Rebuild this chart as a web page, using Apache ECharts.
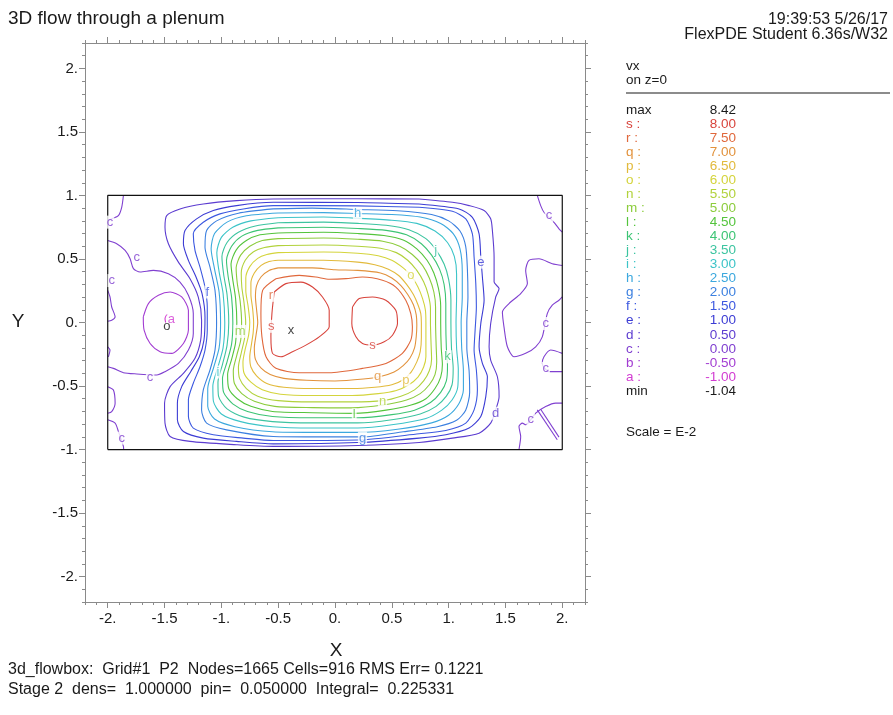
<!DOCTYPE html>
<html>
<head>
<meta charset="utf-8">
<script src="https://cdn.jsdelivr.net/npm/echarts@6/dist/echarts.min.js"></script>
<style>
  html, body { margin: 0; padding: 0; background: #fff; }
  #main { width: 893px; height: 715px; }
</style>
</head>
<body>
<div id="main"></div>
<script>
// tick labels
var xMajor = [-2, -1.5, -1, -0.5, 0, 0.5, 1, 1.5, 2];
var yMajor = [-2, -1.5, -1, -0.5, 0, 0.5, 1, 1.5, 2];

// legend
var legendLevels = ['s', 'r', 'q', 'p', 'o', 'n', 'm', 'l', 'k', 'j', 'i', 'h', 'g', 'f', 'e', 'd', 'c', 'b', 'a'];
var legendValues = [8.00, 7.50, 7.00, 6.50, 6.00, 5.50, 5.00, 4.50, 4.00, 3.50, 3.00, 2.50, 2.00, 1.50, 1.00, 0.50, 0.00, -0.50, -1.00];
var vxMax = 8.42;
var vxMin = -1.04;

// domain outline
var domainBox = [[-2, -1], [2, -1], [2, 1], [-2, 1], [-2, -1]];

// contour lines of vx, one list of pieces per level
var lineA = [
  [[-1.47, 0.065], [-1.485, 0.055], [-1.496, 0.03], [-1.49, 0.0]]
];
var lineB = [
  [[-1.687, 0.044], [-1.642, 0.149], [-1.554, 0.214], [-1.451, 0.24], [-1.349, 0.201], [-1.29, 0.096], [-1.29, -0.06], [-1.334, -0.165], [-1.437, -0.243], [-1.539, -0.23], [-1.627, -0.165], [-1.68, -0.06], [-1.687, 0.044]]
];
var lineC = [
  [[-2.0, 0.645], [-1.921, 0.62], [-1.847, 0.567], [-1.803, 0.502], [-1.774, 0.424], [-1.715, 0.397], [-1.598, 0.41], [-1.466, 0.384], [-1.364, 0.318], [-1.29, 0.214], [-1.247, 0.07], [-1.247, -0.086], [-1.29, -0.217], [-1.378, -0.322], [-1.496, -0.387], [-1.569, -0.413], [-1.745, -0.405], [-1.862, -0.395], [-1.95, -0.361], [-2.0, -0.348]],
  [[-1.862, 1.0], [-1.877, 0.907], [-1.906, 0.842], [-1.965, 0.816], [-2.0, 0.802]],
  [[-2.0, 0.253], [-1.98, 0.201], [-1.965, 0.122], [-1.935, 0.044], [-1.965, 0.018], [-2.0, 0.01]],
  [[-2.0, -0.191], [-1.98, -0.217], [-1.994, -0.27]],
  [[-2.0, -0.505], [-1.95, -0.531], [-1.935, -0.635], [-1.965, -0.701], [-2.0, -0.714]],
  [[-2.0, -0.766], [-1.935, -0.792], [-1.906, -0.858], [-1.862, -0.975], [-1.86, -1.0]],
  [[1.78, 1.0], [1.81, 0.92], [1.839, 0.868], [1.927, 0.789], [1.971, 0.737], [2.0, 0.711]],
  [[2.0, 0.449], [1.912, 0.463], [1.795, 0.502], [1.707, 0.489], [1.678, 0.41], [1.693, 0.306], [1.634, 0.227], [1.531, 0.149], [1.473, 0.083], [1.487, -0.034], [1.517, -0.191], [1.575, -0.27], [1.678, -0.243], [1.766, -0.191], [1.824, -0.113], [1.868, 0.07], [1.912, 0.136], [1.971, 0.175], [2.0, 0.201]],
  [[2.0, -0.243], [1.898, -0.217], [1.839, -0.27], [1.824, -0.322], [1.883, -0.387], [1.971, -0.387], [2.0, -0.387]],
  [[1.619, -1.0], [1.634, -0.897], [1.619, -0.819], [1.649, -0.792], [1.678, -0.805], [1.766, -0.714], [1.854, -0.662], [1.942, -0.635], [2.0, -0.635]],
  [[1.78, -0.688], [1.956, -0.923]],
  [[1.81, -0.683], [1.971, -0.902]]
];
var lineD = [
  [[0.74, 0.972], [0.2, 0.974], [-0.543, 0.972], [-0.866, 0.959], [-1.159, 0.933], [-1.364, 0.894], [-1.481, 0.842], [-1.496, 0.75], [-1.466, 0.62], [-1.378, 0.475], [-1.276, 0.345], [-1.203, 0.2], [-1.174, 0.018], [-1.182, -0.139], [-1.232, -0.282], [-1.334, -0.4], [-1.451, -0.505], [-1.5, -0.635], [-1.496, -0.792], [-1.451, -0.897], [-1.276, -0.936], [-0.866, -0.962], [-0.543, -0.975], [0.2, -0.968], [0.74, -0.944], [1.033, -0.91], [1.268, -0.871], [1.37, -0.792], [1.414, -0.688], [1.444, -0.584], [1.429, -0.427], [1.37, -0.296], [1.356, -0.191], [1.37, -0.008], [1.414, 0.2], [1.444, 0.267], [1.4, 0.318], [1.4, 0.515], [1.385, 0.724], [1.37, 0.816], [1.312, 0.881], [1.18, 0.92], [1.033, 0.946], [0.74, 0.972]]
];
var lineE = [
  [[0.74, 0.933], [0.2, 0.945], [-0.543, 0.946], [-0.866, 0.92], [-1.071, 0.881], [-1.218, 0.816], [-1.32, 0.724], [-1.334, 0.62], [-1.29, 0.489], [-1.223, 0.358], [-1.17, 0.227], [-1.144, 0.044], [-1.153, -0.139], [-1.194, -0.27], [-1.27, -0.387], [-1.349, -0.505], [-1.387, -0.635], [-1.387, -0.766], [-1.334, -0.858], [-1.159, -0.91], [-0.866, -0.936], [-0.543, -0.955], [0.2, -0.945], [0.74, -0.91], [0.975, -0.884], [1.18, -0.831], [1.283, -0.74], [1.327, -0.584], [1.341, -0.427], [1.297, -0.322], [1.268, -0.191], [1.283, -0.008], [1.312, 0.175], [1.297, 0.358], [1.283, 0.515], [1.268, 0.698], [1.209, 0.828], [1.092, 0.894], [0.74, 0.933]]
];
var lineF = [
  [[0.74, 0.907], [0.2, 0.918], [-0.543, 0.92], [-0.807, 0.894], [-1.012, 0.855], [-1.159, 0.789], [-1.247, 0.698], [-1.232, 0.567], [-1.188, 0.436], [-1.144, 0.279], [-1.124, 0.122], [-1.124, -0.06], [-1.144, -0.217], [-1.188, -0.348], [-1.247, -0.478], [-1.29, -0.609], [-1.29, -0.74], [-1.247, -0.831], [-1.071, -0.884], [-0.807, -0.91], [-0.543, -0.929], [0.2, -0.925], [0.74, -0.876], [0.975, -0.85], [1.151, -0.792], [1.224, -0.688], [1.253, -0.531], [1.244, -0.374], [1.224, -0.217], [1.233, -0.06], [1.244, 0.122], [1.239, 0.306], [1.224, 0.515], [1.209, 0.698], [1.151, 0.816], [1.033, 0.875], [0.74, 0.907]]
];
var lineG = [
  [[-0.543, 0.894], [-0.2, 0.9], [0.2, 0.89], [0.55, 0.88], [0.85, 0.85], [1.0, 0.8], [1.1, 0.72], [1.15, 0.6], [1.165, 0.42], [1.17, 0.2], [1.16, 0], [1.16, -0.2], [1.18, -0.38], [1.185, -0.55], [1.15, -0.69], [1.07, -0.77], [0.9, -0.82], [0.6, -0.86], [0.24, -0.9], [-0.2, -0.9], [-0.543, -0.897], [-0.954, -0.845], [-1.13, -0.792], [-1.174, -0.688], [-1.159, -0.531], [-1.1, -0.374], [-1.056, -0.217], [-1.042, 0], [-1.056, 0.253], [-1.1, 0.436], [-1.144, 0.593], [-1.13, 0.724], [-1.042, 0.8], [-0.85, 0.86], [-0.543, 0.894]]
];
var lineH = [
  [[-0.5, 0.862], [-0.1, 0.865], [0.2, 0.858], [0.5, 0.85], [0.75, 0.83], [0.93, 0.78], [1.04, 0.7], [1.1, 0.58], [1.12, 0.4], [1.12, 0.2], [1.11, 0], [1.115, -0.2], [1.13, -0.38], [1.13, -0.53], [1.09, -0.64], [1.0, -0.73], [0.85, -0.79], [0.55, -0.84], [0.2, -0.865], [-0.2, -0.865], [-0.55, -0.86], [-0.88, -0.82], [-1.06, -0.76], [-1.12, -0.66], [-1.12, -0.52], [-1.07, -0.36], [-1.02, -0.2], [-1.007, 0], [-1.02, 0.24], [-1.06, 0.42], [-1.09, 0.58], [-1.06, 0.7], [-0.95, 0.79], [-0.78, 0.84], [-0.5, 0.862]]
];
var lineI = [
  [[-0.5, 0.825], [-0.1, 0.83], [0.2, 0.82], [0.5, 0.805], [0.72, 0.78], [0.88, 0.72], [0.99, 0.63], [1.05, 0.52], [1.07, 0.38], [1.07, 0.2], [1.065, 0], [1.07, -0.2], [1.085, -0.37], [1.08, -0.51], [1.03, -0.61], [0.94, -0.69], [0.8, -0.755], [0.5, -0.805], [0.2, -0.83], [-0.2, -0.83], [-0.55, -0.82], [-0.83, -0.78], [-1.0, -0.72], [-1.07, -0.62], [-1.075, -0.5], [-1.03, -0.35], [-0.985, -0.2], [-0.97, 0], [-0.985, 0.23], [-1.02, 0.4], [-1.04, 0.55], [-1.0, 0.67], [-0.9, 0.75], [-0.74, 0.8], [-0.5, 0.825]]
];
var lineJ = [
  [[-0.5, 0.785], [-0.1, 0.79], [0.2, 0.78], [0.45, 0.765], [0.65, 0.73], [0.8, 0.66], [0.89, 0.57], [0.96, 0.46], [1.0, 0.34], [1.02, 0.18], [1.02, 0], [1.025, -0.2], [1.04, -0.36], [1.03, -0.49], [0.98, -0.58], [0.89, -0.66], [0.75, -0.72], [0.5, -0.765], [0.2, -0.79], [-0.2, -0.79], [-0.55, -0.78], [-0.8, -0.745], [-0.95, -0.68], [-1.025, -0.58], [-1.03, -0.47], [-0.99, -0.33], [-0.95, -0.18], [-0.935, 0], [-0.95, 0.22], [-0.98, 0.38], [-0.995, 0.52], [-0.95, 0.63], [-0.85, 0.71], [-0.7, 0.76], [-0.5, 0.785]]
];
var lineK = [
  [[-0.5, 0.745], [-0.1, 0.75], [0.2, 0.74], [0.45, 0.725], [0.63, 0.69], [0.76, 0.62], [0.85, 0.53], [0.92, 0.42], [0.96, 0.3], [0.975, 0.15], [0.975, 0], [0.98, -0.2], [0.99, -0.34], [0.98, -0.46], [0.93, -0.55], [0.84, -0.63], [0.7, -0.69], [0.5, -0.725], [0.2, -0.75], [-0.2, -0.75], [-0.55, -0.74], [-0.77, -0.7], [-0.9, -0.64], [-0.98, -0.55], [-0.99, -0.44], [-0.95, -0.31], [-0.91, -0.17], [-0.899, 0], [-0.91, 0.2], [-0.94, 0.36], [-0.955, 0.49], [-0.91, 0.6], [-0.82, 0.68], [-0.68, 0.725], [-0.5, 0.745]]
];
var lineL = [
  [[-0.5, 0.705], [-0.1, 0.71], [0.2, 0.7], [0.43, 0.685], [0.6, 0.65], [0.72, 0.58], [0.81, 0.49], [0.87, 0.39], [0.91, 0.27], [0.93, 0.13], [0.93, 0], [0.935, -0.2], [0.945, -0.33], [0.93, -0.43], [0.88, -0.52], [0.8, -0.6], [0.67, -0.65], [0.45, -0.69], [0.17, -0.715], [-0.2, -0.71], [-0.55, -0.7], [-0.74, -0.66], [-0.86, -0.6], [-0.935, -0.52], [-0.945, -0.41], [-0.91, -0.29], [-0.875, -0.16], [-0.864, 0], [-0.875, 0.19], [-0.9, 0.34], [-0.915, 0.46], [-0.87, 0.57], [-0.78, 0.645], [-0.66, 0.69], [-0.5, 0.705]]
];
var lineM = [
  [[-0.5, 0.66], [-0.1, 0.665], [0.2, 0.655], [0.42, 0.64], [0.57, 0.6], [0.68, 0.535], [0.77, 0.45], [0.83, 0.35], [0.87, 0.24], [0.885, 0.12], [0.885, 0], [0.89, -0.18], [0.895, -0.31], [0.88, -0.41], [0.83, -0.49], [0.75, -0.56], [0.63, -0.61], [0.42, -0.65], [0.15, -0.672], [-0.2, -0.67], [-0.53, -0.66], [-0.71, -0.62], [-0.82, -0.56], [-0.885, -0.48], [-0.895, -0.38], [-0.865, -0.26], [-0.83, -0.14], [-0.822, 0], [-0.835, 0.17], [-0.86, 0.31], [-0.87, 0.43], [-0.83, 0.53], [-0.75, 0.6], [-0.64, 0.645], [-0.5, 0.66]]
];
var lineN = [
  [[-0.5, 0.605], [-0.1, 0.61], [0.2, 0.6], [0.4, 0.585], [0.54, 0.55], [0.64, 0.49], [0.72, 0.41], [0.78, 0.32], [0.82, 0.22], [0.84, 0.11], [0.84, 0], [0.845, -0.16], [0.85, -0.29], [0.83, -0.38], [0.78, -0.46], [0.7, -0.53], [0.58, -0.58], [0.42, -0.615], [0.15, -0.625], [-0.2, -0.625], [-0.5, -0.615], [-0.68, -0.58], [-0.78, -0.52], [-0.84, -0.44], [-0.85, -0.35], [-0.825, -0.24], [-0.795, -0.12], [-0.786, 0], [-0.8, 0.15], [-0.82, 0.28], [-0.825, 0.39], [-0.79, 0.49], [-0.72, 0.555], [-0.62, 0.59], [-0.5, 0.605]]
];
var lineO = [
  [[-0.5, 0.55], [-0.1, 0.555], [0.2, 0.545], [0.38, 0.525], [0.5, 0.49], [0.6, 0.43], [0.67, 0.37], [0.73, 0.28], [0.77, 0.19], [0.795, 0.1], [0.8, 0], [0.8, -0.15], [0.8, -0.27], [0.78, -0.35], [0.73, -0.43], [0.65, -0.49], [0.54, -0.535], [0.38, -0.56], [0.15, -0.575], [-0.2, -0.575], [-0.48, -0.565], [-0.64, -0.53], [-0.74, -0.47], [-0.8, -0.4], [-0.81, -0.31], [-0.79, -0.21], [-0.76, -0.1], [-0.75, 0], [-0.765, 0.13], [-0.785, 0.25], [-0.785, 0.35], [-0.75, 0.44], [-0.68, 0.505], [-0.6, 0.535], [-0.5, 0.55]]
];
var lineP = [
  [[-0.5, 0.49], [-0.1, 0.49], [0.2, 0.475], [0.35, 0.455], [0.47, 0.42], [0.56, 0.37], [0.63, 0.3], [0.69, 0.22], [0.73, 0.14], [0.755, 0.07], [0.76, 0], [0.76, -0.12], [0.75, -0.23], [0.72, -0.31], [0.67, -0.39], [0.6, -0.45], [0.5, -0.49], [0.35, -0.51], [0.15, -0.52], [-0.2, -0.52], [-0.45, -0.51], [-0.6, -0.48], [-0.69, -0.42], [-0.74, -0.35], [-0.75, -0.27], [-0.735, -0.17], [-0.72, -0.08], [-0.716, 0], [-0.725, 0.11], [-0.74, 0.22], [-0.74, 0.31], [-0.71, 0.39], [-0.65, 0.45], [-0.58, 0.48], [-0.5, 0.49]]
];
var lineQ = [
  [[-0.5, 0.43], [-0.2, 0.43], [0.0, 0.415], [0.2, 0.41], [0.4, 0.39], [0.5, 0.35], [0.58, 0.29], [0.64, 0.22], [0.69, 0.14], [0.715, 0.06], [0.72, -0.02], [0.715, -0.11], [0.7, -0.2], [0.66, -0.28], [0.6, -0.34], [0.52, -0.39], [0.4, -0.425], [0.25, -0.445], [0.0, -0.46], [-0.25, -0.455], [-0.45, -0.44], [-0.57, -0.41], [-0.65, -0.36], [-0.7, -0.29], [-0.71, -0.2], [-0.695, -0.1], [-0.68, 0], [-0.69, 0.1], [-0.7, 0.2], [-0.69, 0.29], [-0.65, 0.36], [-0.58, 0.41], [-0.5, 0.43]]
];
var lineR = [
  [[-0.52, 0.345], [-0.315, 0.371], [-0.168, 0.358], [-0.05, 0.34], [0.096, 0.345], [0.242, 0.358], [0.418, 0.332], [0.535, 0.279], [0.623, 0.175], [0.667, 0.07], [0.681, -0.034], [0.667, -0.139], [0.593, -0.243], [0.448, -0.322], [0.242, -0.361], [-0.05, -0.395], [-0.315, -0.395], [-0.52, -0.361], [-0.607, -0.27], [-0.643, -0.113], [-0.652, 0.07], [-0.637, 0.253], [-0.52, 0.345]]
];
var lineS = [
  [[-0.535, 0.24], [-0.432, 0.306], [-0.3, 0.318], [-0.198, 0.279], [-0.11, 0.201], [-0.051, 0.096], [-0.051, -0.034], [-0.139, -0.113], [-0.256, -0.178], [-0.374, -0.23], [-0.476, -0.27], [-0.55, -0.243], [-0.564, -0.113], [-0.555, 0.07], [-0.535, 0.24]],
  [[0.154, 0.122], [0.213, 0.188], [0.33, 0.201], [0.447, 0.175], [0.535, 0.096], [0.55, -0.008], [0.506, -0.1], [0.433, -0.152], [0.33, -0.178], [0.242, -0.165], [0.184, -0.113], [0.148, -0.008], [0.154, 0.122]]
];

// letters written on the contours
var contourTags = [
  [-1.98, 0.79, 'c'], [-1.745, 0.515, 'c'], [-1.965, 0.33, 'c'], [-1.627, -0.43, 'c'], [-1.877, -0.91, 'c'],
  [1.883, 0.842, 'c'], [1.854, -0.008, 'c'], [1.854, -0.361, 'c'], [1.722, -0.761, 'c'],
  [-1.44, 0.025, 'a'], [1.414, -0.714, 'd'], [1.283, 0.475, 'e'], [-1.124, 0.24, 'f'],
  [0.242, -0.91, 'g'], [0.198, 0.855, 'h'], [-1.03, -0.39, 'i'], [0.887, 0.567, 'j'],
  [0.989, -0.27, 'k'], [0.169, -0.727, 'l'], [-0.835, -0.07, 'm'], [0.418, -0.623, 'n'],
  [0.667, 0.371, 'o'], [0.623, -0.453, 'p'], [0.374, -0.427, 'q'], [-0.564, 0.214, 'r'],
  [-0.56, -0.03, 's'], [0.33, -0.178, 's']
];
// position of max (x) and min (o)
var extremaTags = [[-0.388, -0.06, 'x'], [-1.48, -0.03, 'o']];

var levelColor = {
  a: '#d23cd2', b: '#a23cd2', c: '#8040d0', d: '#5c3cd0', e: '#3c3cd4', f: '#3c58e0',
  g: '#3c80e0', h: '#3ca8de', i: '#3cc4c8', j: '#3cc4a0', k: '#3cc474', l: '#54c43c',
  m: '#8ccc3c', n: '#b2d23c', o: '#d4d43c', p: '#e2ba3c', q: '#e2923c', r: '#e0683c', s: '#d8443c'
};
var levelLines = {
  a: lineA, b: lineB, c: lineC, d: lineD, e: lineE, f: lineF, g: lineG, h: lineH, i: lineI,
  j: lineJ, k: lineK, l: lineL, m: lineM, n: lineN, o: lineO, p: lineP, q: lineQ, r: lineR, s: lineS
};

var FONT = '"Liberation Sans", Arial, sans-serif';
var axisGray = '#8a8a8a';

function tickText(v) {
  return Number.isInteger(v) ? v.toFixed(0) + '.' : String(v);
}

function majorAxis(pos, withLabels) {
  var horiz = pos === 'bottom' || pos === 'top';
  return {
    type: 'value', position: pos, min: -2.2, max: 2.2,
    axisLine: { show: true, onZero: false, lineStyle: { color: axisGray, width: 1 } },
    axisTick: { show: true, customValues: horiz ? xMajor : yMajor, length: 6, lineStyle: { color: axisGray } },
    axisLabel: {
      show: withLabels, customValues: horiz ? xMajor : yMajor,
      formatter: tickText, color: '#1a1a1a', fontSize: 15, fontFamily: FONT,
      margin: horiz ? 9 : 7
    },
    splitLine: { show: false }
  };
}
function minorAxis(pos) {
  return {
    type: 'value', position: pos, min: -2.2, max: 2.2, interval: 0.1,
    axisLine: { show: false, onZero: false },
    axisTick: { show: true, length: 3, lineStyle: { color: axisGray } },
    axisLabel: { show: false },
    splitLine: { show: false }
  };
}

var series = [];
series.push({
  type: 'line', data: domainBox, xAxisIndex: 0, yAxisIndex: 0,
  symbol: 'none', silent: true, lineStyle: { color: '#111', width: 1.2 }, z: 3
});
Object.keys(levelLines).forEach(function (lv) {
  levelLines[lv].forEach(function (piece) {
    series.push({
      type: 'line', data: piece, xAxisIndex: 0, yAxisIndex: 0,
      symbol: 'none', silent: true, smooth: 0.25,
      lineStyle: { color: levelColor[lv], width: 1.1 }, z: 2
    });
  });
});
series.push({
  type: 'scatter', xAxisIndex: 0, yAxisIndex: 0, silent: true, z: 5,
  data: contourTags.map(function (t) { return { value: t, label: { color: levelColor[t[2]] } }; }),
  symbolSize: 1, itemStyle: { color: 'rgba(0,0,0,0)' },
  label: {
    show: true, position: 'inside', fontSize: 13, fontFamily: FONT,
    backgroundColor: '#fff', padding: [0, 1],
    formatter: function (p) { return p.value[2]; }
  }
});
series.push({
  type: 'scatter', xAxisIndex: 0, yAxisIndex: 0, silent: true, z: 6,
  data: extremaTags, symbolSize: 1, itemStyle: { color: 'rgba(0,0,0,0)' },
  label: {
    show: true, position: 'inside', fontSize: 13, fontFamily: FONT, color: '#111',
    formatter: function (p) { return p.value[2]; }
  }
});

// header, legend and footer texts
var graphics = [];
function txt(x, y, s, opt) {
  opt = opt || {};
  graphics.push({
    type: 'text', x: x, y: y, silent: true,
    style: {
      text: s, fill: opt.color || '#1a1a1a',
      font: (opt.size || 13) + 'px ' + FONT,
      textAlign: opt.align || 'left', textVerticalAlign: 'middle'
    }
  });
}
txt(8, 19, '3D flow through a plenum', { size: 19 });
txt(888, 20, '19:39:53 5/26/17', { size: 16, align: 'right' });
txt(888, 35, 'FlexPDE Student 6.36s/W32', { size: 16, align: 'right' });
txt(626, 66, 'vx', { size: 13.5 });
txt(626, 80, 'on z=0', { size: 13.5 });
graphics.push({
  type: 'line', silent: true,
  shape: { x1: 626, y1: 93, x2: 890, y2: 93 },
  style: { stroke: '#666', lineWidth: 1.5 }
});
var rowH = 14.05;
txt(626, 110, 'max', { size: 13.5 });
txt(736, 110, vxMax.toFixed(2), { size: 13.5, align: 'right' });
legendLevels.forEach(function (lv, i) {
  var y = 110 + rowH * (i + 1);
  txt(626, y, lv + ' :', { size: 13.5, color: levelColor[lv] });
  txt(736, y, legendValues[i].toFixed(2), { size: 13.5, align: 'right', color: levelColor[lv] });
});
var minY = 110 + rowH * (legendLevels.length + 1);
txt(626, minY, 'min', { size: 13.5 });
txt(736, minY, vxMin.toFixed(2), { size: 13.5, align: 'right' });
txt(626, 432, 'Scale = E-2', { size: 13.5 });
txt(336, 651, 'X', { size: 19, align: 'center' });
txt(18, 322, 'Y', { size: 19, align: 'center' });
txt(8, 670, '3d_flowbox:  Grid#1  P2  Nodes=1665 Cells=916 RMS Err= 0.1221', { size: 16 });
txt(8, 690, 'Stage 2  dens=  1.000000  pin=  0.050000  Integral=  0.225331', { size: 16 });

var myChart = echarts.init(document.getElementById('main'));
myChart.setOption({
  animation: false,
  backgroundColor: '#fff',
  grid: { left: 85, top: 43, width: 500, height: 559, containLabel: false },
  xAxis: [majorAxis('bottom', true), minorAxis('bottom'), majorAxis('top', false), minorAxis('top')],
  yAxis: [majorAxis('left', true), minorAxis('left'), majorAxis('right', false), minorAxis('right')],
  series: series,
  graphic: graphics
});
</script>
</body>
</html>
